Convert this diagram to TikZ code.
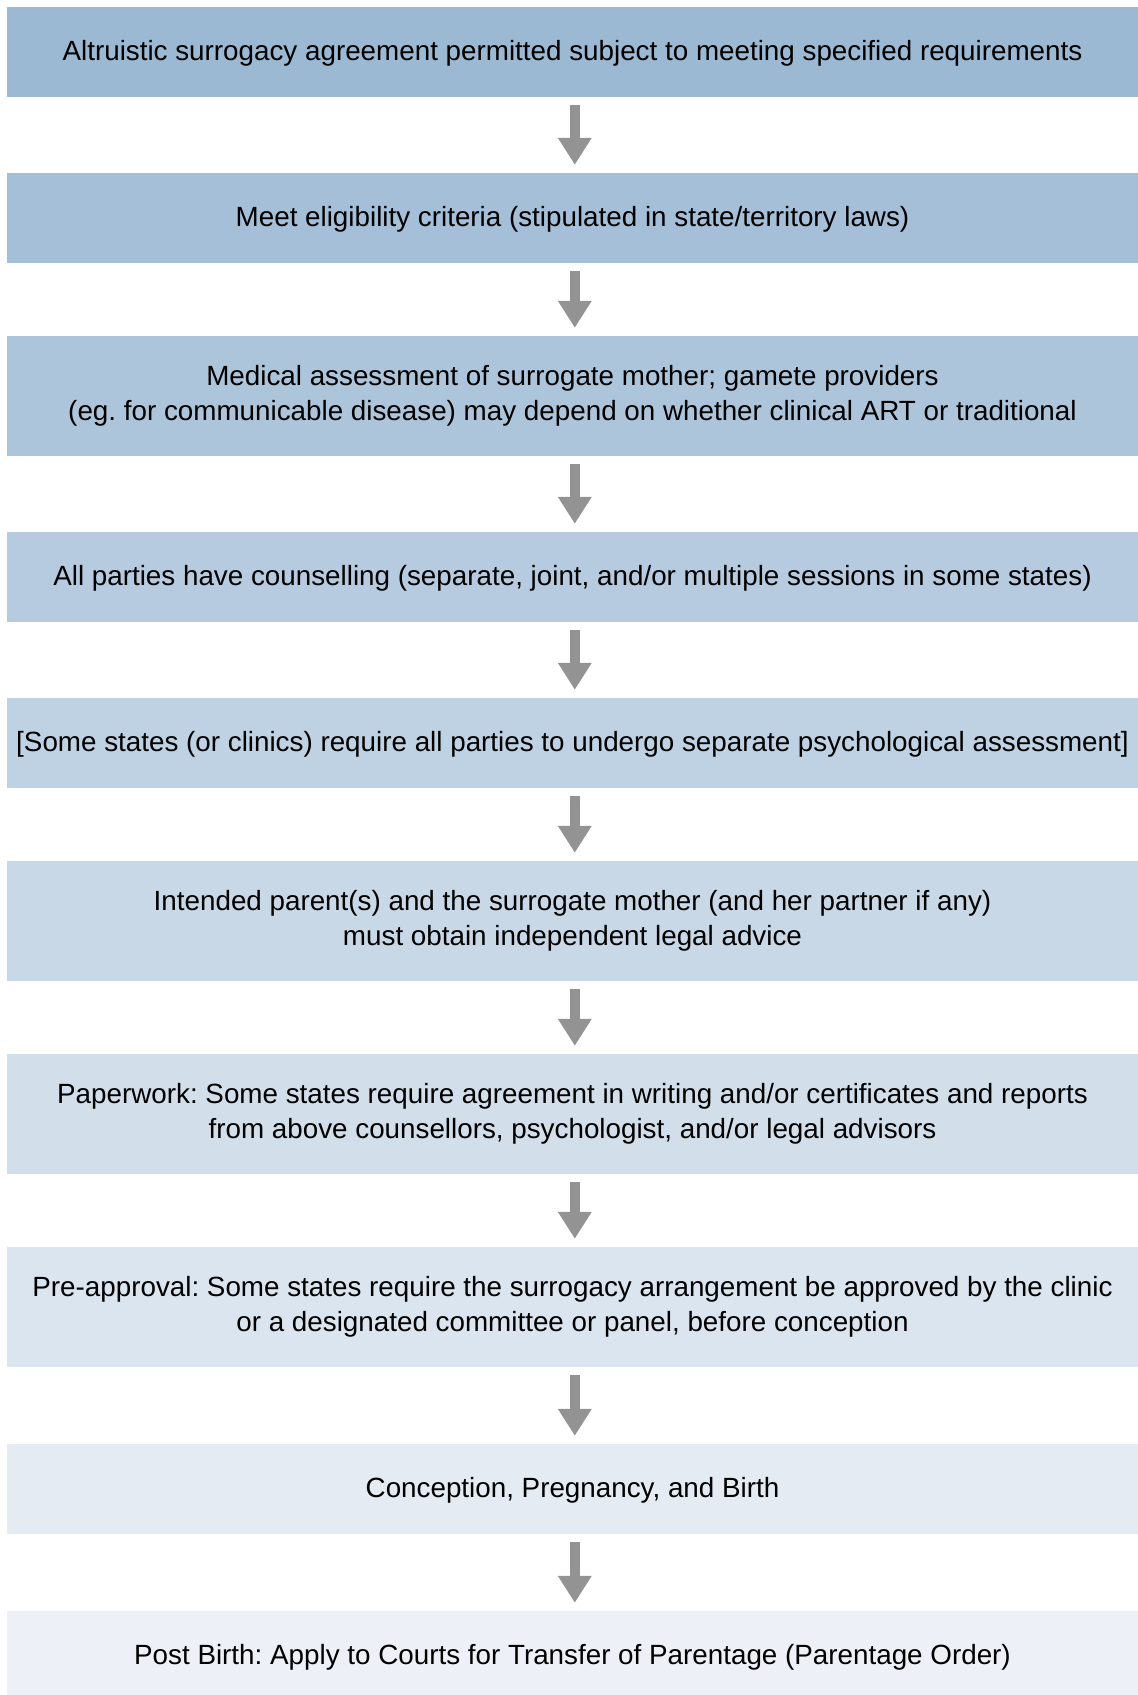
\documentclass[tikz,border=0pt]{standalone}
\usepackage{fontspec}
\setmainfont{Liberation Sans}
\usetikzlibrary{arrows.meta}
\definecolor{topc}{RGB}{155,185,211}
\definecolor{botc}{RGB}{237,241,247}
\definecolor{arrowc}{RGB}{147,147,147}
\newcommand{\boxstrut}{\rule[-6.6pt]{0pt}{30.6pt}}
\tikzset{
  stepbox/.style={inner sep=0pt, minimum width=1131pt, align=center,
    font=\fontsize{27.8pt}{34.6pt}\selectfont\frenchspacing, text=black,
    execute at begin node=\boxstrut, execute at end node=\boxstrut},
  flowarrow/.style={draw=arrowc, line width=10.5pt, -{Triangle[width=32pt,length=27pt]}}
}
\begin{document}
\begin{tikzpicture}[x=1pt,y=1pt]
\useasboundingbox (0,0) rectangle (1138,-1695);
\node[stepbox, fill=topc!100!botc, minimum height=90pt] (b1) at (572.5,-52) {Altruistic surrogacy agreement permitted subject to meeting specified requirements};
\node[stepbox, fill=topc!89!botc, minimum height=90pt] (b2) at (572.5,-218) {Meet eligibility criteria (stipulated in state/territory laws)};
\node[stepbox, fill=topc!78!botc, minimum height=120pt] (b3) at (572.5,-396) {Medical assessment of surrogate mother; gamete providers\\(eg. for communicable disease) may depend on whether clinical ART or traditional};
\node[stepbox, fill=topc!67!botc, minimum height=90pt] (b4) at (572.5,-577) {All parties have counselling (separate, joint, and/or multiple sessions in some states)};
\node[stepbox, fill=topc!56!botc, minimum height=90pt] (b5) at (572.5,-743) {[Some states (or clinics) require all parties to undergo separate psychological assessment]};
\node[stepbox, fill=topc!44!botc, minimum height=120pt] (b6) at (572.5,-921) {Intended parent(s) and the surrogate mother (and her partner if any)\\must obtain independent legal advice};
\node[stepbox, fill=topc!33!botc, minimum height=120pt] (b7) at (572.5,-1114) {Paperwork: Some states require agreement in writing and/or certificates and reports\\from above counsellors, psychologist, and/or legal advisors};
\node[stepbox, fill=topc!22!botc, minimum height=120pt] (b8) at (572.5,-1307) {Pre-approval: Some states require the surrogacy arrangement be approved by the clinic\\or a designated committee or panel, before conception};
\node[stepbox, fill=topc!11!botc, minimum height=90pt] (b9) at (572.5,-1489) {Conception, Pregnancy, and Birth};
\node[stepbox, fill=topc!0!botc, minimum height=90pt] (b10) at (572.5,-1656) {Post Birth: Apply to Courts for Transfer of Parentage (Parentage Order)};
\foreach \a/\b in {b1/b2,b2/b3,b3/b4,b4/b5,b5/b6,b6/b7,b7/b8,b8/b9,b9/b10}
  \draw[flowarrow] ([xshift=2.3pt,yshift=-8pt]\a.south) -- ([xshift=2.3pt,yshift=8pt]\b.north);
\end{tikzpicture}
\end{document}
